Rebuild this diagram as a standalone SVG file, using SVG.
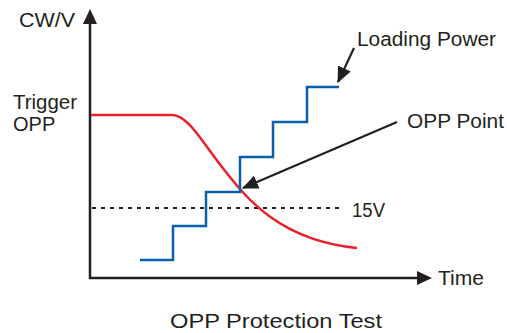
<svg xmlns="http://www.w3.org/2000/svg" width="507" height="333" viewBox="0 0 507 333">
<style>
text{font-family:"Liberation Sans",Arial,sans-serif;fill:#231f20;font-size:20px}
.ax{stroke:#231f20;stroke-width:2.5;fill:none}
.ar{stroke:#231f20;stroke-width:2.2;fill:none}
</style>
<defs>
<marker id="ah2" viewBox="0 0 16 14" refX="15" refY="7" markerWidth="16" markerHeight="14" orient="auto" markerUnits="userSpaceOnUse">
<path d="M0,0 L16,7 L0,14 Z" fill="#231f20"/>
</marker>
</defs>
<rect width="507" height="333" fill="#fff"/>
<g id="axes">
<path class="ax" d="M90,22 V278 H420"/>
<polygon points="90,9 83,24 97,24" fill="#231f20"/>
<polygon points="432,278 417,271 417,285" fill="#231f20"/>
<text x="19" y="27" textLength="56" lengthAdjust="spacingAndGlyphs">CW/V</text>
<text x="438" y="285" textLength="46" lengthAdjust="spacingAndGlyphs">Time</text>
<text x="13" y="109" textLength="64" lengthAdjust="spacingAndGlyphs">Trigger</text>
<text x="13" y="131">OPP</text>
</g>
<g id="threshold">
<path d="M92,208 H344" stroke="#231f20" stroke-width="2" stroke-dasharray="4,5" fill="none"/>
<text x="352" y="217" textLength="33" lengthAdjust="spacingAndGlyphs">15V</text>
</g>
<g id="opp-curve">
<path d="M91,115 L172,115 C188,115 202,142 222,167 C242,192 275,240 357,248" stroke="#e8212b" stroke-width="2.5" fill="none"/>
</g>
<g id="loading-power">
<path d="M140,260 H173 V226 H206 V192 H240 V157 H273 V122 H307 V87 H339" stroke="#0a5fad" stroke-width="2.5" fill="none"/>
</g>
<g id="connectors">
<path class="ar" d="M354,48 L338,82" marker-end="url(#ah2)"/>
<path class="ar" d="M397,122 L243,188" marker-end="url(#ah2)"/>
</g>
<g id="labels">
<text x="357" y="46" textLength="139" lengthAdjust="spacingAndGlyphs">Loading Power</text>
<text x="407" y="128" textLength="97" lengthAdjust="spacingAndGlyphs">OPP Point</text>
<text x="170" y="328" font-size="21" textLength="212" lengthAdjust="spacingAndGlyphs">OPP Protection Test</text>
</g>
</svg>
